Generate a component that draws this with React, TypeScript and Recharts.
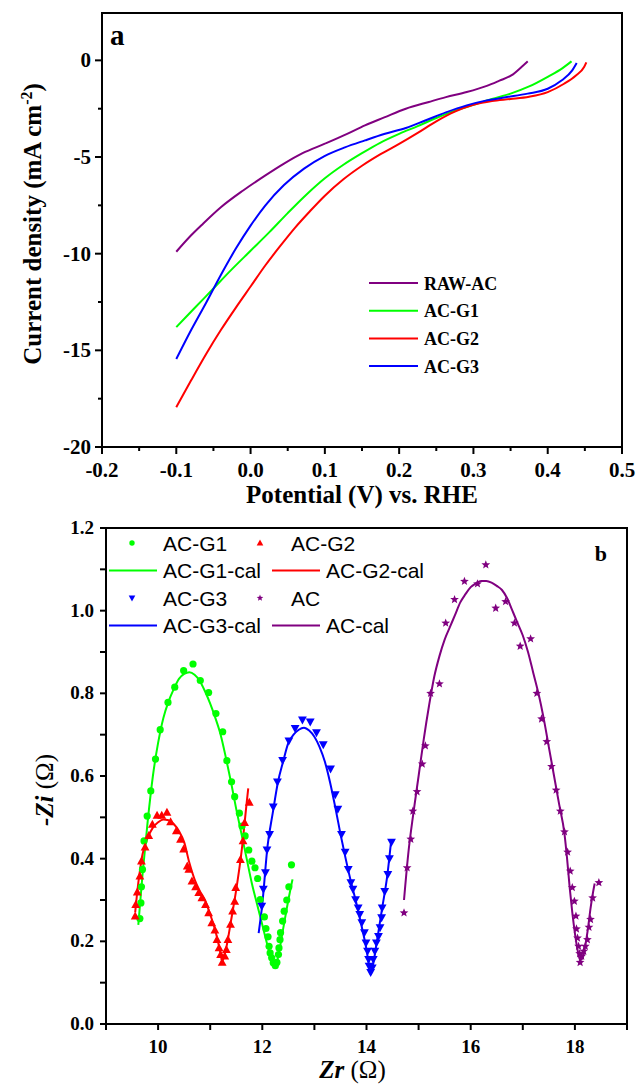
import React from "react";
import {
  ComposedChart,
  Line,
  Scatter,
  XAxis,
  YAxis,
  ReferenceArea,
  Legend,
  Label,
} from "recharts";

const SERIF = "'Liberation Serif', 'Times New Roman', serif";
const SANS = "'Liberation Sans', Arial, sans-serif";

const GREEN = "#00ff00";
const RED = "#ff0000";
const BLUE = "#0000ff";
const PURPLE = "#800080";

// ---------- panel a : LSV curves (potential V vs RHE, current density mA cm-2)
const rawAcLsv = [
  { v: -0.1, j: -9.9 }, { v: -0.08, j: -9.05 }, { v: -0.064, j: -8.45 },
  { v: -0.04, j: -7.6 }, { v: -0.01, j: -6.73 }, { v: 0.02, j: -5.95 },
  { v: 0.045, j: -5.34 }, { v: 0.07, j: -4.8 }, { v: 0.1, j: -4.31 },
  { v: 0.13, j: -3.8 }, { v: 0.154, j: -3.36 }, { v: 0.18, j: -2.95 },
  { v: 0.209, j: -2.5 }, { v: 0.24, j: -2.15 }, { v: 0.263, j: -1.9 },
  { v: 0.291, j: -1.64 }, { v: 0.318, j: -1.32 }, { v: 0.335, j: -1.05 },
  { v: 0.351, j: -0.78 }, { v: 0.367, j: -0.26 }, { v: 0.373, j: -0.05 },
];
const acG1Lsv = [
  { v: -0.1, j: -13.8 }, { v: -0.075, j: -12.8 }, { v: -0.05, j: -11.8 },
  { v: -0.025, j: -10.8 }, { v: 0.0, j: -9.85 }, { v: 0.025, j: -8.9 },
  { v: 0.05, j: -7.9 }, { v: 0.075, j: -6.95 }, { v: 0.1, j: -6.1 },
  { v: 0.125, j: -5.4 }, { v: 0.15, j: -4.8 }, { v: 0.175, j: -4.25 },
  { v: 0.2, j: -3.8 }, { v: 0.225, j: -3.4 }, { v: 0.25, j: -2.98 },
  { v: 0.275, j: -2.6 }, { v: 0.3, j: -2.3 }, { v: 0.325, j: -2.0 },
  { v: 0.35, j: -1.72 }, { v: 0.375, j: -1.35 }, { v: 0.4, j: -0.85 },
  { v: 0.42, j: -0.4 }, { v: 0.432, j: -0.05 },
];
const acG2Lsv = [
  { v: -0.1, j: -17.94 }, { v: -0.08, j: -16.55 }, { v: -0.06, j: -15.2 },
  { v: -0.04, j: -13.95 }, { v: -0.02, j: -12.8 }, { v: 0.0, j: -11.7 },
  { v: 0.02, j: -10.6 }, { v: 0.04, j: -9.6 }, { v: 0.06, j: -8.65 },
  { v: 0.08, j: -7.8 }, { v: 0.1, j: -7.0 }, { v: 0.125, j: -6.15 },
  { v: 0.15, j: -5.45 }, { v: 0.175, j: -4.85 }, { v: 0.2, j: -4.32 },
  { v: 0.225, j: -3.75 }, { v: 0.25, j: -3.15 }, { v: 0.275, j: -2.65 },
  { v: 0.3, j: -2.3 }, { v: 0.325, j: -2.1 }, { v: 0.35, j: -2.0 },
  { v: 0.375, j: -1.88 }, { v: 0.4, j: -1.64 }, { v: 0.422, j: -1.21 },
  { v: 0.438, j: -0.78 }, { v: 0.449, j: -0.34 }, { v: 0.452, j: -0.1 },
];
const acG3Lsv = [
  { v: -0.1, j: -15.45 }, { v: -0.08, j: -13.95 }, { v: -0.06, j: -12.55 },
  { v: -0.04, j: -11.1 }, { v: -0.02, j: -9.75 }, { v: 0.0, j: -8.55 },
  { v: 0.02, j: -7.5 }, { v: 0.045, j: -6.45 }, { v: 0.072, j: -5.6 },
  { v: 0.0995, j: -4.95 }, { v: 0.127, j: -4.5 }, { v: 0.154, j: -4.14 },
  { v: 0.181, j: -3.8 }, { v: 0.209, j: -3.5 }, { v: 0.236, j: -3.1 },
  { v: 0.263, j: -2.69 }, { v: 0.291, j: -2.33 }, { v: 0.318, j: -2.07 },
  { v: 0.345, j: -1.9 }, { v: 0.373, j: -1.72 }, { v: 0.4, j: -1.47 },
  { v: 0.419, j: -1.03 }, { v: 0.433, j: -0.52 }, { v: 0.439, j: -0.14 },
];

const lsvSeries = [
  { name: "RAW-AC", data: rawAcLsv, color: PURPLE },
  { name: "AC-G1", data: acG1Lsv, color: GREEN },
  { name: "AC-G2", data: acG2Lsv, color: RED },
  { name: "AC-G3", data: acG3Lsv, color: BLUE },
];

const potentialTicks = [
  -0.2, -0.15, -0.1, -0.05, 0, 0.05, 0.1, 0.15, 0.2, 0.25, 0.3, 0.35, 0.4, 0.45, 0.5,
];
const currentTicks = [-20, -17.5, -15, -12.5, -10, -7.5, -5, -2.5, 0];

// ---------- panel b : Nyquist plots (Zr, -Zi in ohm)
const acG1Points = [
  [9.65, 0.255], [9.67, 0.293], [9.68, 0.332], [9.7, 0.374], [9.73, 0.443],
  [9.79, 0.503], [9.86, 0.564], [9.95, 0.641], [10.04, 0.712], [10.19, 0.778],
  [10.32, 0.815], [10.49, 0.855], [10.67, 0.871], [10.81, 0.831], [10.97, 0.802],
  [11.11, 0.751], [11.24, 0.707], [11.32, 0.637], [11.41, 0.586], [11.47, 0.55],
  [11.56, 0.51], [11.61, 0.479], [11.67, 0.455], [11.74, 0.421], [11.8, 0.394],
  [11.86, 0.378], [11.91, 0.352], [11.96, 0.301], [12.04, 0.259], [12.07, 0.231],
  [12.11, 0.211], [12.13, 0.188], [12.15, 0.172], [12.18, 0.16], [12.21, 0.148],
  [12.25, 0.141], [12.28, 0.149], [12.31, 0.168], [12.32, 0.184], [12.34, 0.204],
  [12.35, 0.221], [12.39, 0.249], [12.42, 0.273], [12.47, 0.3], [12.51, 0.332],
  [12.56, 0.385],
];
const acG1Fit = [
  [9.62, 0.24], [9.7, 0.36], [9.8, 0.49], [9.9, 0.6], [10.0, 0.68], [10.1, 0.74],
  [10.2, 0.78], [10.3, 0.81], [10.4, 0.835], [10.5, 0.847], [10.6, 0.851],
  [10.7, 0.845], [10.8, 0.83], [10.9, 0.805], [11.0, 0.775], [11.1, 0.74],
  [11.2, 0.7], [11.3, 0.645], [11.4, 0.585], [11.5, 0.52], [11.6, 0.46],
  [11.7, 0.4], [11.8, 0.34], [11.9, 0.29], [12.0, 0.24], [12.1, 0.19],
  [12.2, 0.15], [12.25, 0.14], [12.3, 0.16], [12.4, 0.23], [12.5, 0.3], [12.58, 0.35],
];
const acG2Points = [
  [9.56, 0.261], [9.57, 0.289], [9.6, 0.319], [9.65, 0.358], [9.68, 0.394],
  [9.75, 0.428], [9.82, 0.456], [9.89, 0.483], [9.98, 0.505], [10.07, 0.505],
  [10.17, 0.512], [10.24, 0.489], [10.35, 0.467], [10.43, 0.447], [10.49, 0.423],
  [10.56, 0.382], [10.59, 0.374], [10.65, 0.346], [10.72, 0.332], [10.78, 0.318],
  [10.84, 0.305], [10.91, 0.289], [10.97, 0.269], [11.03, 0.245], [11.09, 0.227],
  [11.13, 0.204], [11.17, 0.184], [11.2, 0.168], [11.23, 0.149], [11.28, 0.164],
  [11.31, 0.18], [11.34, 0.204], [11.39, 0.241], [11.43, 0.273], [11.47, 0.297],
  [11.49, 0.33], [11.58, 0.398], [11.63, 0.443], [11.66, 0.487], [11.75, 0.536],
];
const acG2Fit = [
  [9.56, 0.27], [9.6, 0.32], [9.65, 0.37], [9.7, 0.41], [9.8, 0.45], [9.9, 0.475],
  [10.0, 0.488], [10.1, 0.495], [10.2, 0.493], [10.3, 0.484], [10.4, 0.467],
  [10.5, 0.44], [10.6, 0.39], [10.7, 0.35], [10.8, 0.322], [10.9, 0.3],
  [11.0, 0.265], [11.1, 0.225], [11.2, 0.17], [11.23, 0.152], [11.3, 0.18],
  [11.4, 0.25], [11.5, 0.325], [11.6, 0.415], [11.7, 0.535], [11.73, 0.57],
];
const acG3Points = [
  [11.99, 0.285], [12.02, 0.326], [12.06, 0.366], [12.09, 0.421], [12.14, 0.459],
  [12.21, 0.525], [12.29, 0.586], [12.39, 0.638], [12.51, 0.685], [12.63, 0.715],
  [12.77, 0.736], [12.92, 0.731], [13.04, 0.705], [13.17, 0.676], [13.31, 0.617],
  [13.4, 0.555], [13.45, 0.52], [13.52, 0.459], [13.59, 0.416], [13.65, 0.374],
  [13.7, 0.342], [13.74, 0.326], [13.79, 0.301], [13.84, 0.281], [13.87, 0.265],
  [13.91, 0.245], [13.96, 0.221], [13.99, 0.196], [14.02, 0.176], [14.04, 0.156],
  [14.05, 0.14], [14.08, 0.125], [14.11, 0.136], [14.13, 0.156], [14.16, 0.176],
  [14.19, 0.196], [14.23, 0.212], [14.26, 0.233], [14.29, 0.257], [14.3, 0.281],
  [14.35, 0.321], [14.41, 0.362], [14.44, 0.4], [14.48, 0.44],
];
const acG3Fit = [
  [11.93, 0.22], [12.0, 0.29], [12.1, 0.43], [12.2, 0.51], [12.3, 0.585],
  [12.4, 0.635], [12.5, 0.68], [12.6, 0.7], [12.7, 0.712], [12.8, 0.717],
  [12.9, 0.71], [13.0, 0.695], [13.1, 0.67], [13.2, 0.635], [13.3, 0.585],
  [13.4, 0.525], [13.5, 0.46], [13.6, 0.4], [13.7, 0.345], [13.8, 0.295],
  [13.9, 0.24], [14.0, 0.18], [14.05, 0.14], [14.08, 0.12], [14.12, 0.14],
  [14.2, 0.2], [14.3, 0.28], [14.4, 0.36], [14.47, 0.44],
];
const acPoints = [
  [14.72, 0.269], [14.78, 0.378], [14.85, 0.447], [14.89, 0.515], [14.97, 0.562],
  [15.07, 0.629], [15.13, 0.673], [15.23, 0.8], [15.4, 0.823], [15.52, 0.97],
  [15.69, 1.027], [15.88, 1.071], [16.13, 1.065], [16.29, 1.111], [16.48, 1.006],
  [16.67, 1.022], [16.84, 0.97], [16.95, 0.914], [17.15, 0.932], [17.27, 0.8],
  [17.36, 0.738], [17.46, 0.683], [17.55, 0.623], [17.64, 0.566], [17.72, 0.515],
  [17.8, 0.465], [17.86, 0.416], [17.91, 0.37], [17.95, 0.33], [17.99, 0.297],
  [18.02, 0.261], [18.03, 0.23], [18.05, 0.208], [18.07, 0.188], [18.09, 0.17],
  [18.1, 0.149], [18.13, 0.164], [18.17, 0.176], [18.2, 0.188], [18.24, 0.204],
  [18.27, 0.234], [18.3, 0.253], [18.34, 0.305], [18.46, 0.342],
];
const acFit = [
  [14.72, 0.3], [14.8, 0.41], [14.9, 0.51], [15.0, 0.6], [15.1, 0.69], [15.2, 0.77],
  [15.3, 0.84], [15.4, 0.89], [15.5, 0.93], [15.6, 0.96], [15.7, 0.99], [15.8, 1.02],
  [15.9, 1.04], [16.0, 1.057], [16.1, 1.066], [16.2, 1.072], [16.3, 1.072],
  [16.4, 1.068], [16.5, 1.06], [16.6, 1.05], [16.7, 1.03], [16.8, 1.0], [16.9, 0.97],
  [17.0, 0.94], [17.1, 0.9], [17.2, 0.85], [17.3, 0.8], [17.4, 0.74], [17.5, 0.67],
  [17.6, 0.6], [17.7, 0.53], [17.8, 0.46], [17.85, 0.4], [17.9, 0.33], [17.95, 0.27],
  [18.0, 0.22], [18.05, 0.18], [18.1, 0.155], [18.15, 0.16], [18.2, 0.19],
  [18.25, 0.23], [18.3, 0.28], [18.35, 0.32], [18.38, 0.34],
];

const zrTicks = [9, 10, 11, 12, 13, 14, 15, 16, 17, 18, 19];
const ziTicks = [0, 0.1, 0.2, 0.3, 0.4, 0.5, 0.6, 0.7, 0.8, 0.9, 1.0, 1.1, 1.2];

const toZ = (pts: number[][]) => pts.map(([zr, zi]) => ({ zr, zi }));

// ---------- marker shapes
const starPath = (cx: number, cy: number, R: number, r: number) => {
  let d = "";
  for (let i = 0; i < 10; i++) {
    const rad = i % 2 === 0 ? R : r;
    const a = -Math.PI / 2 + (i * Math.PI) / 5;
    d += (i === 0 ? "M" : "L") + (cx + rad * Math.cos(a)).toFixed(2) + "," + (cy + rad * Math.sin(a)).toFixed(2);
  }
  return d + "Z";
};

const Dot = (color: string, s = 1) => (p: any) => (
  <circle cx={p.cx} cy={p.cy} r={3.6 * s} fill={color} />
);
const TriUp = (color: string, s = 1) => (p: any) => (
  <polygon
    points={`${p.cx},${p.cy - 4.6 * s} ${p.cx - 4.4 * s},${p.cy + 3.4 * s} ${p.cx + 4.4 * s},${p.cy + 3.4 * s}`}
    fill={color}
  />
);
const TriDown = (color: string, s = 1) => (p: any) => (
  <polygon
    points={`${p.cx},${p.cy + 4.6 * s} ${p.cx - 4.4 * s},${p.cy - 3.4 * s} ${p.cx + 4.4 * s},${p.cy - 3.4 * s}`}
    fill={color}
  />
);
const Star = (color: string, s = 1) => (p: any) => (
  <path d={starPath(p.cx, p.cy, 4.6 * s, 2 * s)} fill={color} />
);

const nyquistSeries = [
  { name: "AC-G1", pts: acG1Points, fit: acG1Fit, color: GREEN, shape: Dot },
  { name: "AC-G2", pts: acG2Points, fit: acG2Fit, color: RED, shape: TriUp },
  { name: "AC-G3", pts: acG3Points, fit: acG3Fit, color: BLUE, shape: TriDown },
  { name: "AC", pts: acPoints, fit: acFit, color: PURPLE, shape: Star },
];

// ---------- tick renderers
const near = (a: number, b: number) => Math.abs(a - b) < 1e-6;

const LsvXTick = (p: any) => {
  const v = p.payload.value;
  const major = near(Math.round(v * 10), v * 10);
  return (
    <g>
      <line x1={p.x} x2={p.x} y1={p.y} y2={p.y + (major ? 7 : 4)} stroke="#000" strokeWidth={2} />
      {major && (
        <text x={p.x} y={p.y + 30} textAnchor="middle" fontFamily={SERIF} fontWeight="bold" fontSize={21} fill="#000">
          {v.toFixed(1)}
        </text>
      )}
    </g>
  );
};
const LsvYTick = (p: any) => {
  const v = p.payload.value;
  const major = near(v % 5, 0);
  return (
    <g>
      <line x1={p.x} x2={p.x - (major ? 7 : 4)} y1={p.y} y2={p.y} stroke="#000" strokeWidth={2} />
      {major && (
        <text x={p.x - 11} y={p.y + 7} textAnchor="end" fontFamily={SERIF} fontWeight="bold" fontSize={21} fill="#000">
          {v}
        </text>
      )}
    </g>
  );
};
const ZrTick = (p: any) => {
  const v = p.payload.value;
  const major = v % 2 === 0;
  return (
    <g>
      <line x1={p.x} x2={p.x} y1={p.y} y2={p.y + 6} stroke="#000" strokeWidth={2} />
      {major && (
        <text x={p.x} y={p.y + 29} textAnchor="middle" fontFamily={SERIF} fontWeight="bold" fontSize={19} fill="#000">
          {v}
        </text>
      )}
    </g>
  );
};
const ZiTick = (p: any) => {
  const v = p.payload.value;
  const major = near(Math.round(v * 5), v * 5);
  return (
    <g>
      <line x1={p.x} x2={p.x - 6} y1={p.y} y2={p.y} stroke="#000" strokeWidth={2} />
      {major && (
        <text x={p.x - 12} y={p.y + 6} textAnchor="end" fontFamily={SERIF} fontWeight="bold" fontSize={19} fill="#000">
          {v.toFixed(1)}
        </text>
      )}
    </g>
  );
};

// ---------- legends
const LsvLegend = () => (
  <svg width={200} height={120} style={{ display: "block" }}>
    {lsvSeries.map((s, i) => (
      <g key={s.name} transform={`translate(0, ${10 + i * 27.7})`}>
        <line x1={0} x2={49} y1={0} y2={0} stroke={s.color} strokeWidth={2} />
        <text x={55} y={6.5} fontFamily={SERIF} fontWeight="bold" fontSize={18} fill="#000">
          {s.name}
        </text>
      </g>
    ))}
  </svg>
);

const NyquistLegend = () => {
  const cols = [
    { mark: 26, text: 57, line: [3, 51], lineText: 57 },
    { mark: 154, text: 185, line: [166, 214], lineText: 220 },
  ];
  return (
    <svg width={340} height={110} style={{ display: "block" }}>
      {nyquistSeries.map((s, i) => {
        const c = cols[i % 2];
        const row = Math.floor(i / 2) * 2;
        const y0 = 14 + row * 27.5;
        const y1 = 14 + (row + 1) * 27.5;
        return (
          <g key={s.name}>
            {s.shape(s.color, 0.75)({ cx: c.mark, cy: y0 })}
            <text x={c.text} y={y0 + 7.5} fontFamily={SANS} fontSize={21} fill="#000">
              {s.name}
            </text>
            <line x1={c.line[0]} x2={c.line[1]} y1={y1} y2={y1} stroke={s.color} strokeWidth={2} />
            <text x={c.lineText} y={y1 + 7.5} fontFamily={SANS} fontSize={21} fill="#000">
              {s.name + "-cal"}
            </text>
          </g>
        );
      })}
    </svg>
  );
};

const LsvChart = () => (
  <ComposedChart width={639} height={510} margin={{ top: 13, right: 17, bottom: 0, left: 0 }}>
    <XAxis
      type="number"
      dataKey="v"
      domain={[-0.2, 0.5]}
      ticks={potentialTicks}
      interval={0}
      allowDataOverflow
      height={63}
      tickSize={0}
      tickMargin={0}
      tickLine={false}
      tick={LsvXTick}
      axisLine={{ stroke: "#000", strokeWidth: 2 }}
    >
      <Label
        content={(p: any) => (
          <text
            x={p.viewBox.x + p.viewBox.width / 2}
            y={p.viewBox.y + 56}
            textAnchor="middle"
            fontFamily={SERIF}
            fontWeight="bold"
            fontSize={25}
            fill="#000"
          >
            Potential (V) vs. RHE
          </text>
        )}
      />
    </XAxis>
    <YAxis
      type="number"
      dataKey="j"
      domain={[-20, 2.45]}
      ticks={currentTicks}
      interval={0}
      allowDataOverflow
      width={102}
      tickSize={0}
      tickMargin={0}
      tickLine={false}
      tick={LsvYTick}
      axisLine={{ stroke: "#000", strokeWidth: 2 }}
    >
      <Label
        content={(p: any) => {
          const cx = 41;
          const cy = p.viewBox.y + p.viewBox.height / 2 - 6;
          return (
            <text
              x={cx}
              y={cy}
              transform={`rotate(-90 ${cx} ${cy})`}
              textAnchor="middle"
              fontFamily={SERIF}
              fontWeight="bold"
              fontSize={25}
              fill="#000"
            >
              Current density (mA cm
              <tspan dy={-9} fontSize={16}>-2</tspan>
              <tspan dy={9}>)</tspan>
            </text>
          );
        }}
      />
    </YAxis>
    <ReferenceArea
      x1={-0.2}
      x2={0.5}
      y1={-20}
      y2={2.45}
      fill="none"
      stroke="#000"
      strokeWidth={2}
      label={(p: any) => (
        <text
          x={p.viewBox.x + 8}
          y={p.viewBox.y + 32}
          fontFamily={SERIF}
          fontWeight="bold"
          fontSize={29}
          fill="#000"
        >
          a
        </text>
      )}
    />
    {lsvSeries.map((s) => (
      <Line
        key={s.name}
        data={s.data}
        dataKey="j"
        name={s.name}
        type="monotone"
        stroke={s.color}
        strokeWidth={2}
        dot={false}
        isAnimationActive={false}
      />
    ))}
    <Legend
      layout="vertical"
      align="center"
      verticalAlign="middle"
      content={LsvLegend}
      wrapperStyle={{ left: 369, top: 273, width: 200, height: 120 }}
    />
  </ComposedChart>
);

const NyquistChart = () => (
  <ComposedChart width={639} height={567} margin={{ top: 10, right: 12, bottom: 0, left: 0 }}>
    <XAxis
      type="number"
      dataKey="zr"
      domain={[9, 19]}
      ticks={zrTicks}
      interval={0}
      allowDataOverflow
      height={61}
      tickSize={0}
      tickMargin={0}
      tickLine={false}
      tick={ZrTick}
      axisLine={{ stroke: "#000", strokeWidth: 2 }}
    >
      <Label
        content={(p: any) => (
          <text
            x={p.viewBox.x + p.viewBox.width / 2 - 14}
            y={p.viewBox.y + 54}
            textAnchor="middle"
            fontFamily={SERIF}
            fontSize={25}
            fill="#000"
          >
            <tspan fontWeight="bold" fontStyle="italic">Zr</tspan> (Ω)
          </text>
        )}
      />
    </XAxis>
    <YAxis
      type="number"
      dataKey="zi"
      domain={[0, 1.2]}
      ticks={ziTicks}
      interval={0}
      allowDataOverflow
      width={106}
      tickSize={0}
      tickMargin={0}
      tickLine={false}
      tick={ZiTick}
      axisLine={{ stroke: "#000", strokeWidth: 2 }}
    >
      <Label
        content={() => {
          const cx = 53;
          const cy = 272;
          return (
            <text
              x={cx}
              y={cy}
              transform={`rotate(-90 ${cx} ${cy})`}
              textAnchor="middle"
              fontFamily={SERIF}
              fontSize={25}
              fill="#000"
            >
              <tspan fontWeight="bold" fontStyle="italic">-Zi</tspan> (Ω)
            </text>
          );
        }}
      />
    </YAxis>
    <ReferenceArea
      x1={9}
      x2={19}
      y1={0}
      y2={1.2}
      fill="none"
      stroke="#000"
      strokeWidth={2}
      label={(p: any) => (
        <text
          x={p.viewBox.x + p.viewBox.width - 20}
          y={p.viewBox.y + 33}
          textAnchor="end"
          fontFamily={SERIF}
          fontWeight="bold"
          fontSize={22}
          fill="#000"
        >
          b
        </text>
      )}
    />
    {nyquistSeries.map((s) => (
      <Scatter
        key={s.name}
        name={s.name}
        data={toZ(s.pts)}
        dataKey="zi"
        fill={s.color}
        shape={s.shape(s.color)}
        isAnimationActive={false}
      />
    ))}
    {nyquistSeries.map((s) => (
      <Line
        key={s.name + "-cal"}
        name={s.name + "-cal"}
        data={toZ(s.fit)}
        dataKey="zi"
        type="monotone"
        stroke={s.color}
        strokeWidth={2}
        dot={false}
        isAnimationActive={false}
      />
    ))}
    <Legend
      layout="vertical"
      align="center"
      verticalAlign="middle"
      content={NyquistLegend}
      wrapperStyle={{ left: 106, top: 11, width: 340, height: 110 }}
    />
  </ComposedChart>
);

export default function App() {
  return (
    <div style={{ position: "absolute", left: 0, top: 0, width: 639, height: 1085, background: "#fff" }}>
      <div style={{ position: "absolute", left: 0, top: 0 }}>
        <LsvChart />
      </div>
      <div style={{ position: "absolute", left: 0, top: 518 }}>
        <NyquistChart />
      </div>
    </div>
  );
}
